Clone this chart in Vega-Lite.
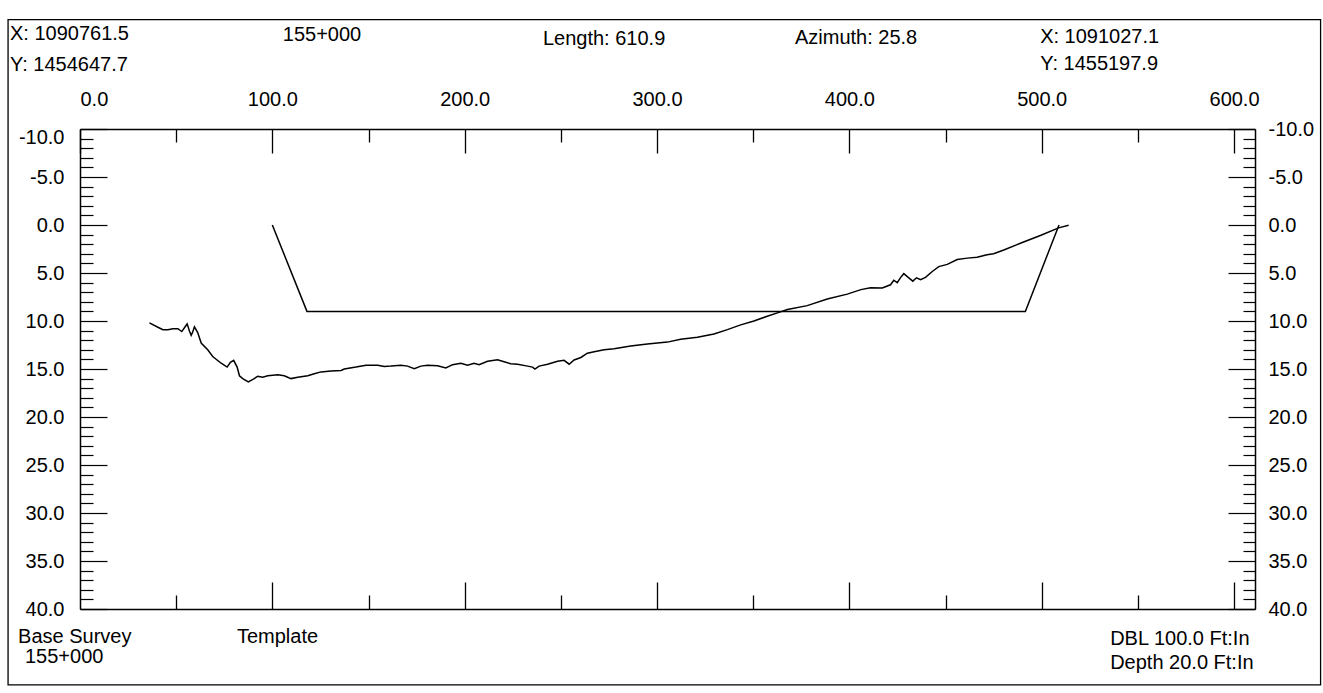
{
  "$schema": "https://vega.github.io/schema/vega-lite/v6.json",
  "width": 1175,
  "height": 480,
  "autosize": {"type": "none"},
  "padding": {"left": 80, "top": 129, "right": 68, "bottom": 84},
  "background": "white",
  "config": {"view": {"stroke": null}, "font": "Liberation Sans"},
  "data": {"values": [{}]},
  "datasets": {
    "ground": [
      {"station": 36.1, "depth": 10.2}, {"station": 40.5, "depth": 10.65}, {"station": 43.1, "depth": 10.9},
      {"station": 45.7, "depth": 10.9}, {"station": 48.3, "depth": 10.8}, {"station": 50.9, "depth": 10.8},
      {"station": 52.9, "depth": 11.1}, {"station": 54.3, "depth": 10.7}, {"station": 55.7, "depth": 10.3},
      {"station": 56.9, "depth": 11.05}, {"station": 57.8, "depth": 11.5}, {"station": 58.6, "depth": 11.15},
      {"station": 59.5, "depth": 10.6}, {"station": 61.2, "depth": 11.2}, {"station": 63.0, "depth": 12.3},
      {"station": 66.4, "depth": 13.0}, {"station": 69.0, "depth": 13.7}, {"station": 73.4, "depth": 14.4},
      {"station": 76.5, "depth": 14.8}, {"station": 78.2, "depth": 14.3}, {"station": 79.9, "depth": 14.1},
      {"station": 81.7, "depth": 14.8}, {"station": 82.9, "depth": 15.7}, {"station": 84.6, "depth": 16.0},
      {"station": 87.5, "depth": 16.35}, {"station": 90.6, "depth": 16.0}, {"station": 92.4, "depth": 15.75},
      {"station": 95.0, "depth": 15.85}, {"station": 97.6, "depth": 15.7}, {"station": 102.8, "depth": 15.6},
      {"station": 106.2, "depth": 15.7}, {"station": 109.7, "depth": 16.0}, {"station": 113.2, "depth": 15.85},
      {"station": 118.4, "depth": 15.7}, {"station": 121.8, "depth": 15.5}, {"station": 125.3, "depth": 15.3},
      {"station": 130.5, "depth": 15.2}, {"station": 135.7, "depth": 15.15}, {"station": 137.4, "depth": 15.0},
      {"station": 143.5, "depth": 14.8}, {"station": 148.7, "depth": 14.6}, {"station": 154.8, "depth": 14.6},
      {"station": 158.2, "depth": 14.75}, {"station": 161.7, "depth": 14.7}, {"station": 166.9, "depth": 14.6},
      {"station": 170.3, "depth": 14.7}, {"station": 173.8, "depth": 14.97}, {"station": 177.2, "depth": 14.7},
      {"station": 180.7, "depth": 14.6}, {"station": 185.9, "depth": 14.67}, {"station": 190.2, "depth": 14.9},
      {"station": 193.7, "depth": 14.55}, {"station": 198.0, "depth": 14.4}, {"station": 201.5, "depth": 14.6},
      {"station": 204.9, "depth": 14.4}, {"station": 207.5, "depth": 14.55}, {"station": 211.9, "depth": 14.2},
      {"station": 217.1, "depth": 14.05}, {"station": 220.5, "depth": 14.25}, {"station": 224.0, "depth": 14.45},
      {"station": 227.5, "depth": 14.5}, {"station": 232.7, "depth": 14.7}, {"station": 235.3, "depth": 14.8},
      {"station": 236.5, "depth": 15.0}, {"station": 238.7, "depth": 14.7}, {"station": 243.1, "depth": 14.5},
      {"station": 248.3, "depth": 14.2}, {"station": 251.7, "depth": 14.1}, {"station": 254.3, "depth": 14.5},
      {"station": 256.9, "depth": 14.06}, {"station": 260.4, "depth": 13.8}, {"station": 263.8, "depth": 13.35},
      {"station": 267.3, "depth": 13.2}, {"station": 272.5, "depth": 13.0}, {"station": 277.7, "depth": 12.9},
      {"station": 286.3, "depth": 12.6}, {"station": 295.0, "depth": 12.4}, {"station": 305.4, "depth": 12.2},
      {"station": 312.3, "depth": 11.9}, {"station": 321.0, "depth": 11.7}, {"station": 329.6, "depth": 11.35},
      {"station": 336.6, "depth": 10.9}, {"station": 343.5, "depth": 10.4}, {"station": 350.4, "depth": 10.0},
      {"station": 357.3, "depth": 9.5}, {"station": 362.6, "depth": 9.15}, {"station": 367.8, "depth": 8.8},
      {"station": 378.1, "depth": 8.4}, {"station": 388.5, "depth": 7.7}, {"station": 398.9, "depth": 7.2},
      {"station": 406.0, "depth": 6.73}, {"station": 411.0, "depth": 6.54}, {"station": 417.1, "depth": 6.56},
      {"station": 421.4, "depth": 6.23}, {"station": 423.1, "depth": 5.75}, {"station": 424.9, "depth": 6.0},
      {"station": 426.6, "depth": 5.48}, {"station": 428.3, "depth": 5.07}, {"station": 430.9, "depth": 5.5},
      {"station": 433.0, "depth": 5.85}, {"station": 434.9, "depth": 5.5}, {"station": 437.0, "depth": 5.7},
      {"station": 439.6, "depth": 5.46}, {"station": 443.1, "depth": 4.84}, {"station": 446.5, "depth": 4.33},
      {"station": 450.9, "depth": 4.1}, {"station": 456.1, "depth": 3.6}, {"station": 461.3, "depth": 3.45},
      {"station": 466.4, "depth": 3.35}, {"station": 471.6, "depth": 3.1}, {"station": 475.0, "depth": 3.0},
      {"station": 480.3, "depth": 2.6}, {"station": 488.9, "depth": 1.9}, {"station": 499.3, "depth": 1.1},
      {"station": 508.8, "depth": 0.3}, {"station": 514.0, "depth": 0.03}
    ],
    "template": [
      {"station": 100, "depth": 0}, {"station": 118, "depth": 9},
      {"station": 491.5, "depth": 9}, {"station": 509, "depth": 0}
    ]
  },
  "resolve": {"axis": {"x": "independent", "y": "independent"}},
  "layer": [
    {
      "mark": {"type": "rect", "fill": "white", "fillOpacity": 0, "stroke": "black", "strokeWidth": 1.3},
      "encoding": {
        "x": {"datum": -37.4, "type": "quantitative", "axis": null},
        "x2": {"datum": 645},
        "y": {"datum": -21.4, "type": "quantitative", "axis": null},
        "y2": {"datum": 47.9}
      }
    },
    {
      "data": {"name": "ground"},
      "mark": {"type": "line", "color": "black", "strokeWidth": 1.5},
      "encoding": {
        "x": {
          "field": "station", "type": "quantitative",
          "scale": {"domain": [0, 610.9], "nice": false, "zero": false},
          "axis": {
            "orient": "top", "title": null, "grid": false,
            "values": [0, 50, 100, 150, 200, 250, 300, 350, 400, 450, 500, 550, 600],
            "domainColor": "black", "domainWidth": 1.5,
            "tickColor": "black", "tickWidth": 1.3,
            "tickSize": {"condition": {"test": "datum.value % 100 === 0", "value": -24}, "value": -13},
            "labelExpr": "datum.value % 100 === 0 ? format(datum.value, '.1f') : ''",
            "labelFontSize": 20, "labelColor": "black", "labelFont": "Liberation Sans",
            "labelPadding": 44, "labelFlush": true, "labelOverlap": false, "labelBound": false
          }
        },
        "y": {
          "field": "depth", "type": "quantitative",
          "scale": {"domain": [-10, 40], "reverse": true, "nice": false, "zero": false},
          "axis": {
            "orient": "left", "title": null, "grid": false,
            "values": [-10,-9,-8,-7,-6,-5,-4,-3,-2,-1,0,1,2,3,4,5,6,7,8,9,10,11,12,13,14,15,16,17,18,19,20,21,22,23,24,25,26,27,28,29,30,31,32,33,34,35,36,37,38,39,40],
            "domainColor": "black", "domainWidth": 1.5,
            "tickColor": "black", "tickWidth": 1.2,
            "tickSize": {"condition": {"test": "datum.value % 5 === 0", "value": -27}, "value": -13},
            "labelExpr": "datum.value % 5 === 0 ? (datum.value < 0 ? '-' : '') + format(abs(datum.value), '.1f') : ''",
            "labelFontSize": 20, "labelColor": "black", "labelFont": "Liberation Sans",
            "labelPadding": 43, "labelBaseline": "middle",
            "labelOffset": {"condition": {"test": "datum.value === -10", "value": 8}, "value": 0},
            "labelOverlap": false, "labelBound": false
          }
        }
      }
    },
    {
      "data": {"name": "template"},
      "mark": {"type": "line", "color": "black", "strokeWidth": 1.5},
      "encoding": {
        "x": {
          "field": "station", "type": "quantitative",
          "scale": {"domain": [0, 610.9], "nice": false, "zero": false},
          "axis": {
            "orient": "bottom", "title": null, "grid": false, "labels": false,
            "values": [50, 100, 150, 200, 250, 300, 350, 400, 450, 500, 550, 600],
            "domainColor": "black", "domainWidth": 1.5,
            "tickColor": "black", "tickWidth": 1.3,
            "tickSize": {"condition": {"test": "datum.value % 100 === 0", "value": -27}, "value": -14}
          }
        },
        "y": {
          "field": "depth", "type": "quantitative",
          "scale": {"domain": [-10, 40], "reverse": true, "nice": false, "zero": false},
          "axis": {
            "orient": "right", "title": null, "grid": false,
            "values": [-10,-9,-8,-7,-6,-5,-4,-3,-2,-1,0,1,2,3,4,5,6,7,8,9,10,11,12,13,14,15,16,17,18,19,20,21,22,23,24,25,26,27,28,29,30,31,32,33,34,35,36,37,38,39,40],
            "domainColor": "black", "domainWidth": 1.5,
            "tickColor": "black", "tickWidth": 1.2,
            "tickSize": {"condition": {"test": "datum.value % 5 === 0", "value": -27}, "value": -12},
            "labelExpr": "datum.value % 5 === 0 ? (datum.value < 0 ? '-' : '') + format(abs(datum.value), '.1f') : ''",
            "labelFontSize": 20, "labelColor": "black", "labelFont": "Liberation Sans",
            "labelPadding": 40, "labelBaseline": "middle",
            "labelOverlap": false, "labelBound": false
          }
        }
      }
    },
    {"mark": {"type": "text", "align": "left", "baseline": "middle", "fontSize": 20, "font": "Liberation Sans", "color": "black"},
     "encoding": {"x": {"datum": -36.4, "type": "quantitative", "axis": null}, "y": {"datum": -19.9, "type": "quantitative", "axis": null}, "text": {"value": "X: 1090761.5"}}},
    {"mark": {"type": "text", "align": "left", "baseline": "middle", "fontSize": 20, "font": "Liberation Sans", "color": "black"},
     "encoding": {"x": {"datum": -36.4, "type": "quantitative", "axis": null}, "y": {"datum": -16.7, "type": "quantitative", "axis": null}, "text": {"value": "Y: 1454647.7"}}},
    {"mark": {"type": "text", "align": "center", "baseline": "middle", "fontSize": 20, "font": "Liberation Sans", "color": "black"},
     "encoding": {"x": {"datum": 125.8, "type": "quantitative", "axis": null}, "y": {"datum": -19.8, "type": "quantitative", "axis": null}, "text": {"value": "155+000"}}},
    {"mark": {"type": "text", "align": "center", "baseline": "middle", "fontSize": 20, "font": "Liberation Sans", "color": "black"},
     "encoding": {"x": {"datum": 272.5, "type": "quantitative", "axis": null}, "y": {"datum": -19.4, "type": "quantitative", "axis": null}, "text": {"value": "Length: 610.9"}}},
    {"mark": {"type": "text", "align": "center", "baseline": "middle", "fontSize": 20, "font": "Liberation Sans", "color": "black"},
     "encoding": {"x": {"datum": 403.5, "type": "quantitative", "axis": null}, "y": {"datum": -19.5, "type": "quantitative", "axis": null}, "text": {"value": "Azimuth: 25.8"}}},
    {"mark": {"type": "text", "align": "left", "baseline": "middle", "fontSize": 20, "font": "Liberation Sans", "color": "black"},
     "encoding": {"x": {"datum": 499.2, "type": "quantitative", "axis": null}, "y": {"datum": -19.6, "type": "quantitative", "axis": null}, "text": {"value": "X: 1091027.1"}}},
    {"mark": {"type": "text", "align": "left", "baseline": "middle", "fontSize": 20, "font": "Liberation Sans", "color": "black"},
     "encoding": {"x": {"datum": 499.2, "type": "quantitative", "axis": null}, "y": {"datum": -16.8, "type": "quantitative", "axis": null}, "text": {"value": "Y: 1455197.9"}}},
    {"mark": {"type": "text", "align": "left", "baseline": "middle", "fontSize": 20, "font": "Liberation Sans", "color": "black"},
     "encoding": {"x": {"datum": -32.2, "type": "quantitative", "axis": null}, "y": {"datum": 42.9, "type": "quantitative", "axis": null}, "text": {"value": "Base Survey"}}},
    {"mark": {"type": "text", "align": "left", "baseline": "middle", "fontSize": 20, "font": "Liberation Sans", "color": "black"},
     "encoding": {"x": {"datum": -28.6, "type": "quantitative", "axis": null}, "y": {"datum": 45.0, "type": "quantitative", "axis": null}, "text": {"value": "155+000"}}},
    {"mark": {"type": "text", "align": "left", "baseline": "middle", "fontSize": 20, "font": "Liberation Sans", "color": "black"},
     "encoding": {"x": {"datum": 81.6, "type": "quantitative", "axis": null}, "y": {"datum": 42.9, "type": "quantitative", "axis": null}, "text": {"value": "Template"}}},
    {"mark": {"type": "text", "align": "left", "baseline": "middle", "fontSize": 20, "font": "Liberation Sans", "color": "black"},
     "encoding": {"x": {"datum": 535.6, "type": "quantitative", "axis": null}, "y": {"datum": 43.1, "type": "quantitative", "axis": null}, "text": {"value": "DBL 100.0 Ft:In"}}},
    {"mark": {"type": "text", "align": "left", "baseline": "middle", "fontSize": 20, "font": "Liberation Sans", "color": "black"},
     "encoding": {"x": {"datum": 535.6, "type": "quantitative", "axis": null}, "y": {"datum": 45.6, "type": "quantitative", "axis": null}, "text": {"value": "Depth 20.0 Ft:In"}}}
  ]
}
